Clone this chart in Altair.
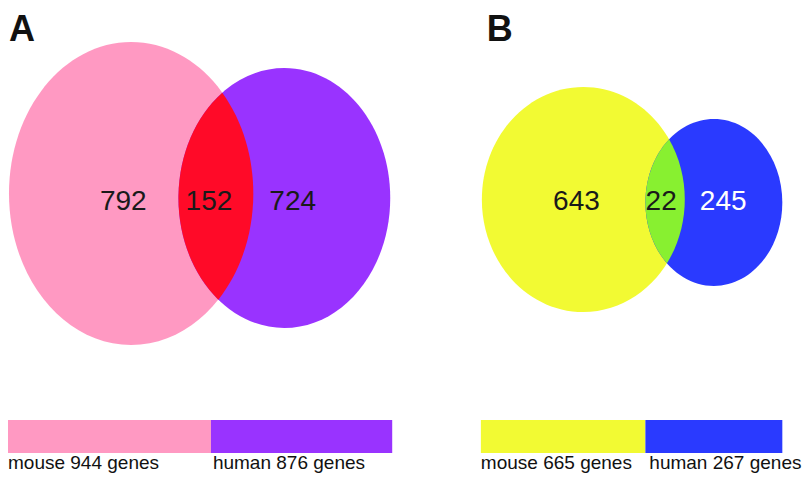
import altair as alt
import numpy as np
import pandas as pd

# ---------------- values ----------------
panel_labels = ["A", "B"]
set_names = ["mouse A", "human A", "mouse B", "human B"]
set_colors = ["#FF99C2", "#9933FF", "#F2FA33", "#2A3AFF"]
overlap_colors = ["#FF0A28", "#88F030"]

region_counts = ["792", "152", "724", "643", "22", "245"]
region_text_colors = ["#1a1a1a", "#1a1a1a", "#1a1a1a", "#1a1a1a", "#1a1a1a", "#ffffff"]

bar_labels = ["mouse 944 genes", "human 876 genes", "mouse 665 genes", "human 267 genes"]

# ---------------- layout (reference picture pixels) ----------------
panel_label_x = [3, 488]
panel_label_y = [41, 41]

ell_cx = [127, 282.5, 586, 718.5]
ell_cy = [193.5, 198, 199.5, 202.5]
ell_rx = [124, 107.5, 103, 69.5]
ell_ry = [151.5, 130, 112.5, 83.5]

count_x = [119, 206, 291, 579, 665, 728]
count_y = [210, 210, 210, 210, 210, 210]

bar_x0 = [2, 208, 482, 649]
bar_x1 = [208, 392, 649, 788]
bar_y0 = [420, 420, 420, 420]
bar_y1 = [453, 453, 453, 453]
label_x = [2, 210, 482, 653]
label_y = [469, 469, 469, 469]

FONT = "Liberation Sans"

# The page has an 8px margin: squeeze the picture's width into the 796px area.
W, H = 796, 465
XD = [2, 810]
YD = [8, 473]
SX = W / (XD[1] - XD[0])
SY = H / (YD[1] - YD[0])


def ellipse_path(rx, ry):
    rx, ry = rx * SX, ry * SY
    return (f"M {-rx:.3f} 0 A {rx:.3f} {ry:.3f} 0 1 0 {rx:.3f} 0 "
            f"A {rx:.3f} {ry:.3f} 0 1 0 {-rx:.3f} 0 Z")


def intersections(i, j):
    def F(t):
        x = ell_cx[i] + ell_rx[i] * np.cos(t)
        y = ell_cy[i] + ell_ry[i] * np.sin(t)
        return ((x - ell_cx[j]) / ell_rx[j]) ** 2 + ((y - ell_cy[j]) / ell_ry[j]) ** 2 - 1
    t = np.linspace(-np.pi, np.pi, 20001)
    f = F(t)
    idx = np.where(np.sign(f[:-1]) != np.sign(f[1:]))[0]
    pts = []
    for k in idx:
        a, b = t[k], t[k + 1]
        fa = F(a)
        for _ in range(60):
            m = 0.5 * (a + b)
            fm = F(m)
            if np.sign(fm) == np.sign(fa):
                a, fa = m, fm
            else:
                b = m
        m = 0.5 * (a + b)
        pts.append((ell_cx[i] + ell_rx[i] * np.cos(m), ell_cy[i] + ell_ry[i] * np.sin(m)))
    pts.sort(key=lambda p: p[1])
    return pts[0], pts[-1]


def lens(i, j):
    p1, p2 = intersections(i, j)
    ax, ay = 0.5 * (p1[0] + p2[0]), 0.5 * (p1[1] + p2[1])
    a1 = ((p1[0] - ax) * SX, (p1[1] - ay) * SY)
    a2 = ((p2[0] - ax) * SX, (p2[1] - ay) * SY)
    path = (f"M {a1[0]:.3f} {a1[1]:.3f} "
            f"A {ell_rx[i] * SX:.3f} {ell_ry[i] * SY:.3f} 0 0 1 {a2[0]:.3f} {a2[1]:.3f} "
            f"A {ell_rx[j] * SX:.3f} {ell_ry[j] * SY:.3f} 0 0 1 {a1[0]:.3f} {a1[1]:.3f} Z")
    return ax, ay, path


ell_df = pd.DataFrame({
    "name": set_names,
    "cx": ell_cx,
    "cy": ell_cy,
    "path": [ellipse_path(rx, ry) for rx, ry in zip(ell_rx, ell_ry)],
    "color": set_colors,
})

lens_rows = []
for (i, j), col in zip([(0, 1), (2, 3)], overlap_colors):
    ax, ay, p = lens(i, j)
    lens_rows.append({"cx": ax, "cy": ay, "path": p, "color": col})
lens_df = pd.DataFrame(lens_rows)

count_df = pd.DataFrame({"t": region_counts, "x": count_x, "y": count_y, "c": region_text_colors})
panel_df = pd.DataFrame({"t": panel_labels, "x": panel_label_x, "y": panel_label_y})
bar_df = pd.DataFrame({"x0": bar_x0, "x1": bar_x1, "y0": bar_y0, "y1": bar_y1, "color": set_colors,
                       "label": bar_labels})
lab_df = pd.DataFrame({"t": bar_labels, "x": label_x, "y": label_y})

xs = alt.Scale(domain=XD, nice=False, zero=False)
ys = alt.Scale(domain=YD, nice=False, zero=False, reverse=True)


def X(f):
    return alt.X(f"{f}:Q", scale=xs, axis=None)


def Y(f):
    return alt.Y(f"{f}:Q", scale=ys, axis=None)


ellipses = alt.Chart(ell_df).mark_point(filled=True, opacity=1, size=4, strokeWidth=0).encode(
    x=X("cx"), y=Y("cy"),
    shape=alt.Shape("path:N", scale=None, legend=None),
    color=alt.Color("color:N", scale=None, legend=None),
)

lenses = alt.Chart(lens_df).mark_point(filled=True, opacity=1, size=4, strokeWidth=0).encode(
    x=X("cx"), y=Y("cy"),
    shape=alt.Shape("path:N", scale=None, legend=None),
    color=alt.Color("color:N", scale=None, legend=None),
)

counts = alt.Chart(count_df).mark_text(font=FONT, fontSize=28, align="center",
                                       baseline="alphabetic").encode(
    x=X("x"), y=Y("y"), text="t:N",
    color=alt.Color("c:N", scale=None, legend=None),
)

panels = alt.Chart(panel_df).mark_text(font=FONT, fontSize=36, fontWeight="bold", align="left",
                                       baseline="alphabetic", color="#111111").encode(
    x=X("x"), y=Y("y"), text="t:N",
)

bars = alt.Chart(bar_df).mark_rect(strokeWidth=0).encode(
    x=X("x0"), x2="x1", y=Y("y0"), y2="y1",
    color=alt.Color("color:N", scale=None, legend=None),
)

labels = alt.Chart(lab_df).mark_text(font=FONT, fontSize=19, align="left", baseline="alphabetic",
                                     color="#111111").encode(
    x=X("x"), y=Y("y"), text="t:N",
)

chart = alt.layer(ellipses, lenses, counts, panels, bars, labels).properties(
    width=W, height=H, padding=0,
    autosize=alt.AutoSizeParams(type="none"),
).configure_view(stroke=None)

chart.save("out.html", embed_options={"renderer": "svg", "actions": False})
